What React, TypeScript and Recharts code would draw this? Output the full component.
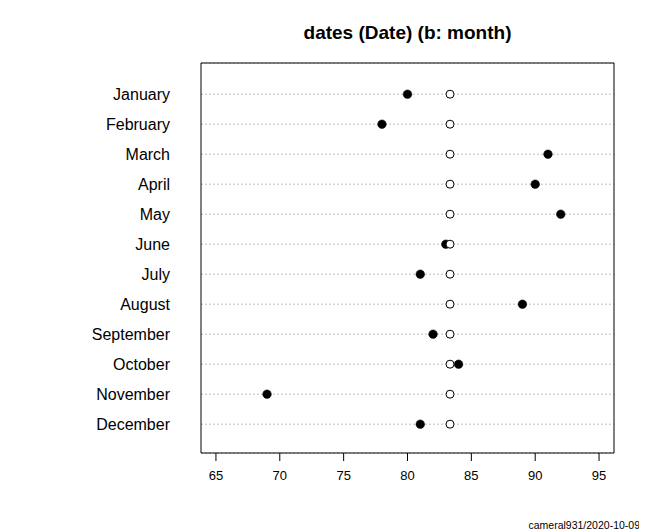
import React from "react";
import {
  ScatterChart,
  Scatter,
  XAxis,
  YAxis,
  CartesianGrid,
  ReferenceArea,
} from "recharts";

const months = [
  "January",
  "February",
  "March",
  "April",
  "May",
  "June",
  "July",
  "August",
  "September",
  "October",
  "November",
  "December",
];
const values = [80, 78, 91, 90, 92, 83, 81, 89, 82, 84, 69, 81];
const means = [83.33, 83.33, 83.33, 83.33, 83.33, 83.33, 83.33, 83.33, 83.33, 83.33, 83.33, 83.33];
const xTicks = [65, 70, 75, 80, 85, 90, 95];

const n = months.length;
const valueData = months.map((m, i) => ({ pos: n - i, x: values[i] }));
const meanData = months.map((m, i) => ({ pos: n - i, x: means[i] }));
const yTicks = months.map((m, i) => n - i);

const FONT = "'Liberation Sans', Arial, sans-serif";
const X_MIN = 63.83;
const X_MAX = 96.17;
const Y_MIN = 0.04;
const Y_MAX = 13.04;

const FilledDot = (props: any) => (
  <circle cx={props.cx} cy={props.cy} r={4.3} fill="#000" stroke="#000" strokeWidth={0.5} />
);
const OpenDot = (props: any) => (
  <circle cx={props.cx} cy={props.cy} r={4} fill="#fff" stroke="#000" strokeWidth={1} />
);

export default function App() {
  return (
    <div style={{ position: "relative", width: 639, height: 524, fontFamily: FONT }}>
      <div
        style={{
          position: "absolute",
          left: 0,
          width: 799,
          top: 15,
          textAlign: "center",
          fontWeight: "bold",
          fontSize: 19,
          lineHeight: "19px",
          color: "#000",
        }}
      >
        dates (Date) (b: month)
      </div>
      <ScatterChart
        width={639}
        height={524}
        margin={{ top: 55, right: 33, bottom: 39, left: 43 }}
      >
        <CartesianGrid
          vertical={false}
          horizontal={true}
          stroke="#bebebe"
          strokeDasharray="2 2"
        />
        <XAxis
          type="number"
          dataKey="x"
          domain={[X_MIN, X_MAX]}
          ticks={xTicks}
          allowDataOverflow
          axisLine={false}
          tickLine={{ stroke: "#000" }}
          tickSize={8}
          tickMargin={10}
          height={40}
          tick={{ fill: "#000", fontSize: 13, fontFamily: FONT }}
          interval={0}
        />
        <YAxis
          type="number"
          dataKey="pos"
          domain={[Y_MIN, Y_MAX]}
          ticks={yTicks}
          allowDataOverflow
          axisLine={false}
          tickLine={false}
          tickSize={0}
          tickMargin={31}
          width={150}
          interval={0}
          tickFormatter={(v: number) => months[n - v]}
          tick={{ fill: "#000", fontSize: 16, fontFamily: FONT }}
        />
        <ReferenceArea
          x1={X_MIN}
          x2={X_MAX}
          y1={Y_MIN}
          y2={Y_MAX}
          fill="none"
          stroke="#000"
          strokeWidth={1}
          ifOverflow="visible"
        />
        <Scatter data={valueData} shape={FilledDot} isAnimationActive={false} />
        <Scatter data={meanData} shape={OpenDot} isAnimationActive={false} />
      </ScatterChart>
      <div
        style={{
          position: "absolute",
          right: 7,
          top: 512,
          fontSize: 10.5,
          lineHeight: "11px",
          color: "#000",
          whiteSpace: "nowrap",
        }}
      >
        cameral931/2020-10-09
      </div>
    </div>
  );
}
